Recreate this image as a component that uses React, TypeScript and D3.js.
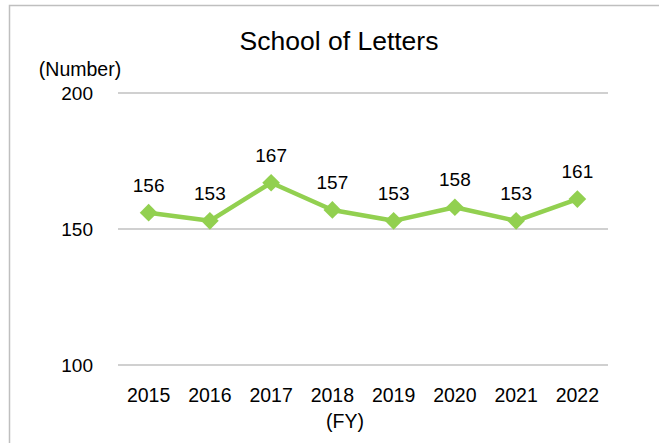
import React from 'react';
import * as d3 from 'd3';

const years = ['2015', '2016', '2017', '2018', '2019', '2020', '2021', '2022'];
const counts = [156, 153, 167, 157, 153, 158, 153, 161];
const yTicks = [100, 150, 200];

const W = 659;
const H = 443;
const margin = { top: 93, right: 51, bottom: 78, left: 118 };
const green = '#92D050';
const font = '"Liberation Sans", Arial, sans-serif';

export default function App() {
  const x = d3
    .scaleBand<string>()
    .domain(years)
    .range([margin.left, W - margin.right]);

  const y = d3
    .scaleLinear()
    .domain([100, 200])
    .range([H - margin.bottom, margin.top]);

  const cx = (i: number) => (x(years[i]) ?? 0) + x.bandwidth() / 2;

  const line = d3
    .line<number>()
    .x((_, i) => cx(i))
    .y(d => y(d));

  const diamond = d3.symbol(d3.symbolDiamond2, 200)();

  return (
    <svg
      width={W}
      height={H}
      style={{ position: 'absolute', left: 0, top: 0, background: '#fff' }}
      fontFamily={font}
    >
      {/* chart frame */}
      <rect x={9.5} y={5.5} width={W + 20} height={H + 20} fill="none" stroke="#bfbfbf" strokeWidth={1.5} />

      <text x={339} y={50} textAnchor="middle" fontSize={26.5} fill="#000">
        School of Letters
      </text>
      <text x={80} y={76} textAnchor="middle" fontSize={19.5} fill="#000">
        (Number)
      </text>

      {/* gridlines + y tick labels */}
      {yTicks.map(t => (
        <g key={t}>
          <line
            x1={margin.left}
            x2={W - margin.right}
            y1={y(t)}
            y2={y(t)}
            stroke="#c0c0c0"
            strokeWidth={1.5}
          />
          <text x={93} y={y(t) + 7} textAnchor="end" fontSize={19} fill="#000">
            {t}
          </text>
        </g>
      ))}

      {/* x labels */}
      {years.map((yr, i) => (
        <text key={yr} x={cx(i)} y={H - margin.bottom + 37} textAnchor="middle" fontSize={19.5} fill="#000">
          {yr}
        </text>
      ))}
      <text x={345} y={428} textAnchor="middle" fontSize={19.5} fill="#000">
        (FY)
      </text>

      {/* series */}
      <path d={line(counts) ?? ''} fill="none" stroke={green} strokeWidth={4.5} strokeLinejoin="round" />
      {counts.map((v, i) => (
        <g key={i}>
          <path d={diamond ?? ''} transform={`translate(${cx(i)},${y(v)})`} fill={green} />
          <text x={cx(i)} y={y(v) - 21} textAnchor="middle" fontSize={19} fill="#000">
            {v}
          </text>
        </g>
      ))}
    </svg>
  );
}
